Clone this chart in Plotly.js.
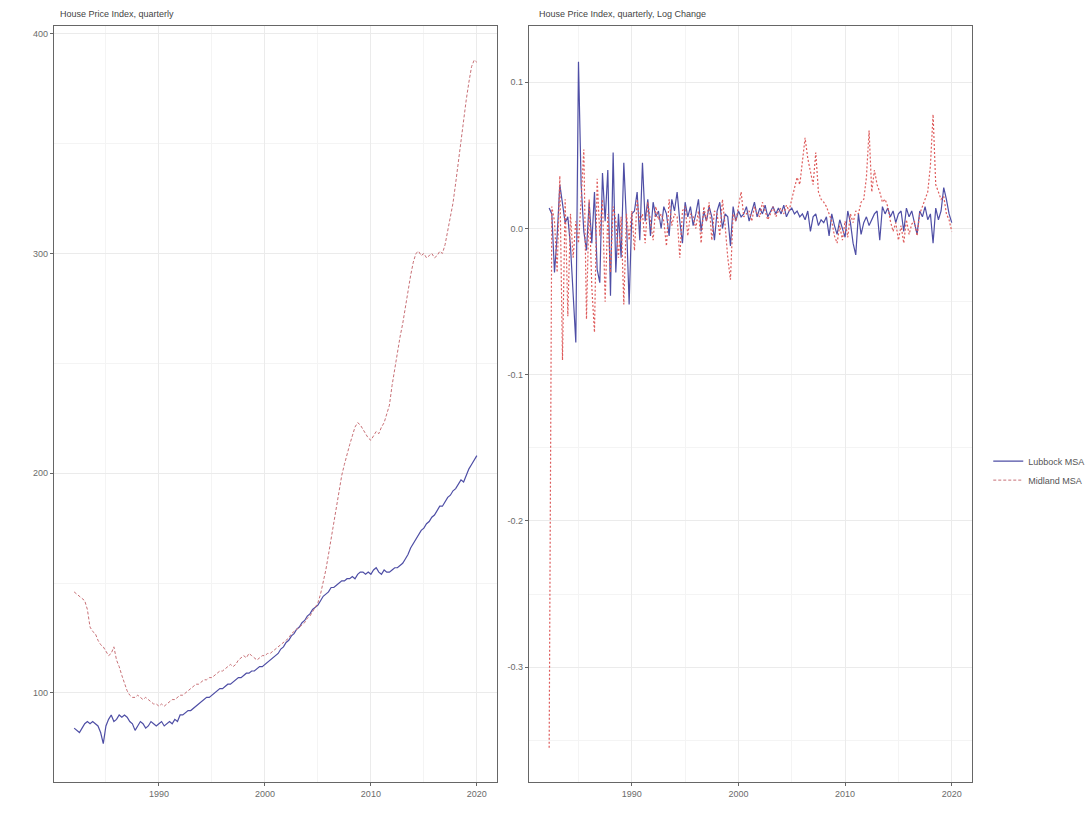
<!DOCTYPE html>
<html>
<head>
<meta charset="utf-8">
<script src="https://cdn.plot.ly/plotly-3.0.1.min.js"></script>
<style>
  html, body { margin: 0; padding: 0; background: #ffffff; }
  #chart { width: 1092px; height: 830px; }
</style>
</head>
<body>
<div id="chart"></div>
<script>
// ---------- data ----------
const seriesNames = ["Lubbock MSA", "Midland MSA"];
const panelTitles = ["House Price Index, quarterly", "House Price Index, quarterly, Log Change"];

// Level series, quarterly 1982Q1 .. 2020Q1
const levelStart = 1982.0;
const lubbockLevel = [
  84, 83, 82, 84,
  86, 87, 86, 87,
  86, 85, 82, 77,
  85, 88, 90, 87,
  88, 90, 89, 90,
  89, 87, 86, 83,
  85, 87, 86, 84,
  85, 87, 86, 85,
  86, 87, 85, 86,
  87, 86, 88, 87,
  90, 90, 91, 92,
  92, 93, 94, 95,
  96, 97, 98, 98,
  99, 100, 101, 102,
  102, 103, 104, 104,
  105, 106, 107, 107,
  108, 109, 109, 110,
  110, 111, 112, 112,
  113, 114, 115, 116,
  117, 118, 120, 121,
  123, 124, 126, 127,
  129, 130, 132, 133,
  135, 136, 138, 139,
  140, 142, 144, 145,
  146, 148, 148, 149,
  150, 151, 151, 152,
  152, 153, 152, 154,
  155, 155, 154, 155,
  154, 156, 157, 155,
  154, 156, 155, 155,
  156, 157, 157, 158,
  159, 161, 163, 166,
  168, 170, 172, 174,
  175, 177, 178, 180,
  181, 183, 185, 185,
  187, 189, 190, 192,
  193, 195, 197, 196,
  199, 202, 204, 206,
  208
];
const midlandLevel = [
  146, 145, 144, 143,
  142, 138, 130, 128,
  127, 124, 122, 121,
  119, 117, 118, 121,
  115, 112, 108, 104,
  101, 99, 98, 98,
  99, 98, 97, 98,
  97, 96, 95, 95,
  94, 95, 94, 95,
  96, 97, 97, 98,
  99, 99, 100, 101,
  102, 103, 104, 104,
  105, 106, 106, 107,
  107, 108, 109, 110,
  110, 111, 112, 113,
  112, 113, 115, 116,
  117, 116, 118, 117,
  116, 115, 116, 117,
  117, 118, 118, 119,
  120, 121, 122, 123,
  124, 125, 127, 128,
  129, 130, 131, 132,
  134, 135, 137, 139,
  141, 145, 150, 156,
  163, 170, 178, 186,
  193, 199, 204, 209,
  213, 217, 221, 223,
  222, 220, 218, 216,
  215, 217, 219, 218,
  221, 223, 227, 231,
  240, 248, 256, 262,
  268, 276, 283, 290,
  296, 300, 301, 299,
  300, 298, 299, 300,
  298, 299, 301, 300,
  304, 310, 316, 323,
  332, 342, 352, 362,
  370, 378, 385, 388,
  387
];

// Log change series, quarterly 1982Q2 .. 2020Q1
const changeStart = 1982.25;
const lubbockChange = [
  0.014, 0.010, -0.030,
  -0.005, 0.030, 0.018, 0.004,
  0.008, -0.012, -0.045, -0.078,
  0.114, 0.030, -0.002, -0.015,
  0.018, -0.010, 0.025, -0.028,
  -0.037, 0.038, 0.005, 0.040,
  -0.046, 0.052, -0.030, 0.010,
  -0.020, 0.045, 0.005, -0.052,
  0.010, 0.012, 0.025, -0.008,
  0.045, 0.005, 0.020, -0.005,
  0.018, 0.008, 0.012, 0.000,
  0.015, 0.010, -0.005, 0.020,
  0.012, 0.025, 0.005, -0.010,
  0.018, 0.008, 0.015, 0.002,
  0.010, 0.020, -0.002, 0.012,
  0.005, 0.015, 0.008, -0.008,
  0.012, 0.018, 0.000, 0.010,
  0.008, -0.012, 0.015, 0.005,
  0.012, 0.008, 0.010, 0.015,
  0.005, 0.012, 0.018, 0.008,
  0.014, 0.010, 0.016, 0.008,
  0.012, 0.015, 0.010, 0.014,
  0.010, 0.016, 0.008, 0.012,
  0.014, 0.010, 0.012, 0.008,
  0.010, 0.006, 0.012, -0.002,
  0.008, 0.010, 0.002, 0.006,
  0.004, 0.008, -0.005, 0.010,
  0.002, -0.004, 0.006, 0.000,
  -0.006, 0.012, 0.004, -0.010,
  -0.018, 0.010, -0.004, 0.004,
  0.008, 0.002, 0.006, 0.010,
  0.012, -0.008, 0.015, 0.010,
  0.014, 0.008, 0.012, 0.004,
  0.010, 0.012, -0.002, 0.014,
  0.008, 0.012, 0.004, -0.004,
  0.012, 0.008, 0.015, 0.006,
  0.010, -0.010, 0.014, 0.006,
  0.012, 0.028, 0.020, 0.010,
  0.004
];
const midlandChange = [
  -0.355, 0.015, 0.005,
  -0.030, 0.036, -0.090, 0.020,
  -0.060, 0.010, -0.020, 0.005,
  -0.010, 0.020, 0.054, -0.062,
  0.020, -0.040, -0.071, 0.034,
  -0.005, 0.020, -0.050, 0.010,
  -0.030, 0.015, 0.005, -0.020,
  0.008, -0.052, 0.010, -0.008,
  0.012, -0.015, 0.020, 0.004,
  0.010, -0.010, 0.018, 0.005,
  -0.008, 0.015, 0.006, 0.010,
  0.005, -0.012, 0.020, 0.002,
  0.010, 0.008, -0.020, 0.012,
  0.015, -0.005, 0.010, 0.008,
  0.000, 0.012, -0.010, 0.015,
  0.005, 0.018, -0.008, 0.012,
  0.010, -0.005, 0.020, 0.002,
  -0.020, -0.035, 0.010, 0.005,
  0.015, 0.025, 0.008, 0.010,
  0.012, 0.005, 0.015, 0.010,
  0.008, 0.018, 0.012, 0.006,
  0.010, 0.015, 0.008, 0.012,
  0.014, 0.010, 0.016, 0.012,
  0.020, 0.028, 0.035, 0.030,
  0.045, 0.062, 0.048, 0.040,
  0.030, 0.052, 0.025, 0.020,
  0.018, 0.015, 0.010, 0.005,
  -0.005, -0.010, 0.002, -0.008,
  0.005, -0.006, 0.010, 0.004,
  0.012, 0.010, 0.018, 0.020,
  0.035, 0.067, 0.025, 0.040,
  0.030, 0.025, 0.018, 0.020,
  0.015, 0.005, -0.002, 0.004,
  -0.008, 0.002, -0.010, 0.006,
  -0.004, 0.003, 0.005, -0.005,
  0.010, 0.015, 0.020, 0.025,
  0.043, 0.078, 0.030, 0.025,
  0.020, 0.022, 0.010, 0.006,
  -0.002
];

const xTickVals = [1990, 2000, 2010, 2020];
const xTickText = ["1990", "2000", "2010", "2020"];
const yLeftTicks = [100, 200, 300, 400];
const yRightTicks = [-0.3, -0.2, -0.1, 0.0, 0.1];
const yRightText = ["-0.3", "-0.2", "-0.1", "0.0", "0.1"];

// ---------- build ----------
function quarterAxis(start, n) { const a = []; for (let i = 0; i < n; i++) a.push(start + 0.25 * i); return a; }
const xl = quarterAxis(levelStart, lubbockLevel.length);
const xc = quarterAxis(changeStart, lubbockChange.length);

const colLub = "rgb(78,78,165)";
const colMidLeft = "rgb(200,112,118)";
const colMid = "rgb(222,92,92)";

const traces = [
  { x: xl, y: lubbockLevel, name: seriesNames[0], type: "scatter", mode: "lines",
    line: { color: colLub, width: 1.2 }, xaxis: "x", yaxis: "y", legendgroup: "l" },
  { x: xl, y: midlandLevel, name: seriesNames[1], type: "scatter", mode: "lines",
    line: { color: colMidLeft, width: 1, dash: "3px,2px" }, xaxis: "x", yaxis: "y", legendgroup: "m" },
  { x: xc, y: lubbockChange, name: seriesNames[0], type: "scatter", mode: "lines",
    line: { color: colLub, width: 1.2 }, xaxis: "x2", yaxis: "y2", showlegend: false, legendgroup: "l" },
  { x: xc, y: midlandChange, name: seriesNames[1], type: "scatter", mode: "lines",
    line: { color: colMid, width: 1.2, dash: "2px,2px" }, xaxis: "x2", yaxis: "y2", showlegend: false, legendgroup: "m" }
];

const W = 1092, H = 830;
const tickFont = { family: "Liberation Sans, Arial, sans-serif", size: 9, color: "#6b6b6b" };
const axBase = {
  showline: true, mirror: true, linecolor: "#666666", linewidth: 1.2,
  ticks: "outside", ticklen: 3, tickcolor: "#666666", tickwidth: 1,
  showgrid: true, gridcolor: "#ebebeb", gridwidth: 1, zeroline: false,
  tickfont: tickFont
};

const layout = {
  width: W, height: H,
  paper_bgcolor: "#ffffff", plot_bgcolor: "#ffffff",
  margin: { l: 0, r: 0, t: 0, b: 0 },
  showlegend: true,
  legend: { x: 0.905, y: 0.433, xanchor: "left", yanchor: "middle",
    font: { family: "Liberation Sans, Arial, sans-serif", size: 9, color: "#555" },
    itemwidth: 30, tracegroupgap: 0, bgcolor: "rgba(0,0,0,0)" },
  xaxis: Object.assign({}, axBase, { domain: [54 / W, 497 / W], range: [1980.1, 2021.9],
    tickvals: xTickVals, ticktext: xTickText, anchor: "y",
    minor: { tickvals: [1985, 1995, 2005, 2015], showgrid: true, gridcolor: "#f4f4f4", ticks: "" } }),
  yaxis: Object.assign({}, axBase, { domain: [1 - 782 / H, 1 - 26 / H], range: [59.5, 403.5],
    tickvals: yLeftTicks, anchor: "x",
    minor: { tickvals: [150, 250, 350], showgrid: true, gridcolor: "#f4f4f4", ticks: "" } }),
  xaxis2: Object.assign({}, axBase, { domain: [529 / W, 972 / W], range: [1980.36, 2021.9],
    tickvals: xTickVals, ticktext: xTickText, anchor: "y2",
    minor: { tickvals: [1985, 1995, 2005, 2015], showgrid: true, gridcolor: "#f4f4f4", ticks: "" } }),
  yaxis2: Object.assign({}, axBase, { domain: [1 - 782 / H, 1 - 26 / H], range: [-0.3785, 0.1385],
    tickvals: yRightTicks, ticktext: yRightText, anchor: "x2",
    minor: { tickvals: [-0.35, -0.25, -0.15, -0.05, 0.05], showgrid: true, gridcolor: "#f4f4f4", ticks: "" } }),
  annotations: [
    { text: panelTitles[0], xref: "paper", yref: "paper", x: 58 / W, y: 1 - 14 / H,
      xanchor: "left", yanchor: "middle", showarrow: false,
      font: { family: "Liberation Sans, Arial, sans-serif", size: 9, color: "#444" } },
    { text: panelTitles[1], xref: "paper", yref: "paper", x: 537 / W, y: 1 - 14 / H,
      xanchor: "left", yanchor: "middle", showarrow: false,
      font: { family: "Liberation Sans, Arial, sans-serif", size: 9, color: "#444" } }
  ]
};

Plotly.newPlot("chart", traces, layout, { displayModeBar: false, staticPlot: true });
</script>
</body>
</html>
